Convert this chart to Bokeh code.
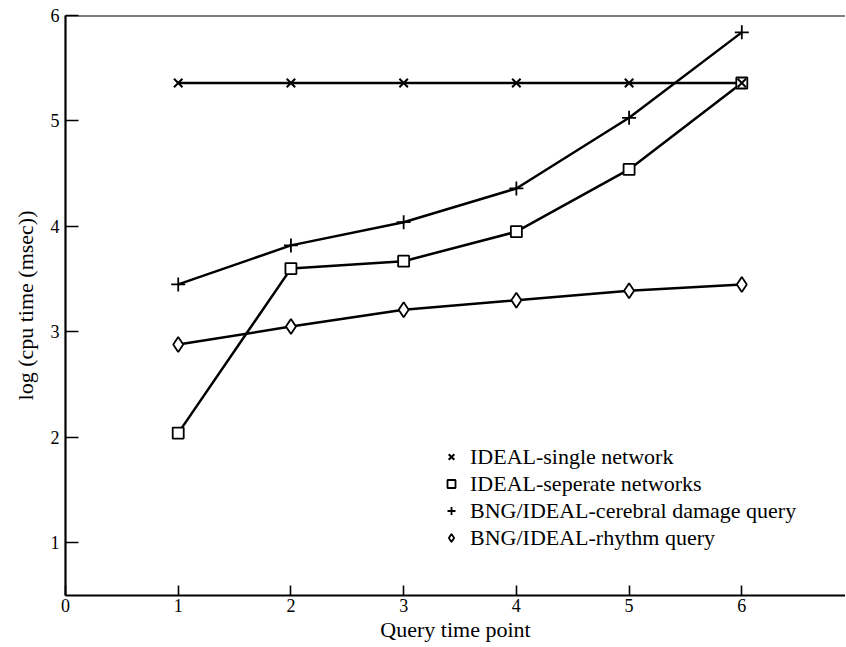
from bokeh.plotting import figure
from bokeh.models import Range1d, FixedTicker, Span, Legend, LegendItem
from bokeh.embed import file_html
from bokeh.resources import INLINE

# ---- data ----
query_points = [1, 2, 3, 4, 5, 6]
ideal_single = [5.36, 5.36, 5.36, 5.36, 5.36, 5.36]
ideal_separate = [2.04, 3.60, 3.67, 3.95, 4.54, 5.36]
bng_cerebral = [3.45, 3.82, 4.04, 4.36, 5.03, 5.84]
bng_rhythm = [2.88, 3.05, 3.21, 3.30, 3.39, 3.45]
x_ticks = [0, 1, 2, 3, 4, 5, 6]
y_ticks = [1, 2, 3, 4, 5, 6]
labels = ["IDEAL-single network", "IDEAL-seperate networks",
          "BNG/IDEAL-cerebral damage query", "BNG/IDEAL-rhythm query"]

FONT = "Liberation Serif"

p = figure(width=845, height=646, output_backend="svg", toolbar_location=None,
           x_range=Range1d(0, 6.92), y_range=Range1d(0.5, 6.0),
           min_border_left=65, min_border_right=0, min_border_top=15, min_border_bottom=51)
p.background_fill_color = "white"
p.border_fill_color = "white"
p.outline_line_color = None
p.grid.visible = False

for ax in (p.xaxis[0], p.yaxis[0]):
    ax.axis_line_width = 2.2
    ax.axis_line_color = "black"
    ax.major_tick_line_width = 1.6
    ax.major_tick_out = 0
    ax.minor_tick_line_color = None
    ax.major_label_text_font = FONT
    ax.major_label_text_font_size = "18px"
    ax.major_label_text_color = "black"
    ax.axis_label_text_font = FONT
    ax.axis_label_text_font_size = "22px"
    ax.axis_label_text_font_style = "normal"
    ax.axis_label_text_color = "black"

p.xaxis.ticker = FixedTicker(ticks=x_ticks)
p.yaxis.ticker = FixedTicker(ticks=y_ticks)
p.xaxis.major_tick_in = 10
p.yaxis.major_tick_in = 13
p.xaxis.major_label_standoff = 3
p.yaxis.major_label_standoff = 6
p.xaxis.axis_label = "Query time point"
p.yaxis.axis_label = "log (cpu time (msec))"
p.xaxis.axis_label_standoff = 2
p.yaxis.axis_label_standoff = 10

p.add_layout(Span(location=6.0, dimension="width", line_color="black", line_width=2.2))

lw = 2.5
for ys in (ideal_single, ideal_separate, bng_cerebral, bng_rhythm):
    p.line(query_points, ys, line_color="black", line_width=lw)

r2 = p.scatter(query_points, ideal_separate, marker="square", size=11, line_color="black",
               fill_color="white", line_width=1.8)
r3 = p.scatter(query_points, bng_cerebral, marker="cross", size=14, line_color="black", line_width=1.8)
r4 = p.scatter(query_points, bng_rhythm, marker="diamond", size=15, line_color="black",
               fill_color="white", line_width=1.8)
r1 = p.scatter(query_points, ideal_single, marker="x", size=12, line_color="black", line_width=2)

legend = Legend(items=[LegendItem(label=labels[0], renderers=[r1]),
                       LegendItem(label=labels[1], renderers=[r2]),
                       LegendItem(label=labels[2], renderers=[r3]),
                       LegendItem(label=labels[3], renderers=[r4])],
                location=(376, 44), padding=0, margin=0, spacing=0,
                glyph_width=20, glyph_height=27, label_height=27, label_standoff=9,
                border_line_color=None, background_fill_alpha=0,
                label_text_font=FONT, label_text_font_size="22px", label_text_color="black")
p.add_layout(legend)

open("out.html", "w").write(file_html(p, INLINE))
